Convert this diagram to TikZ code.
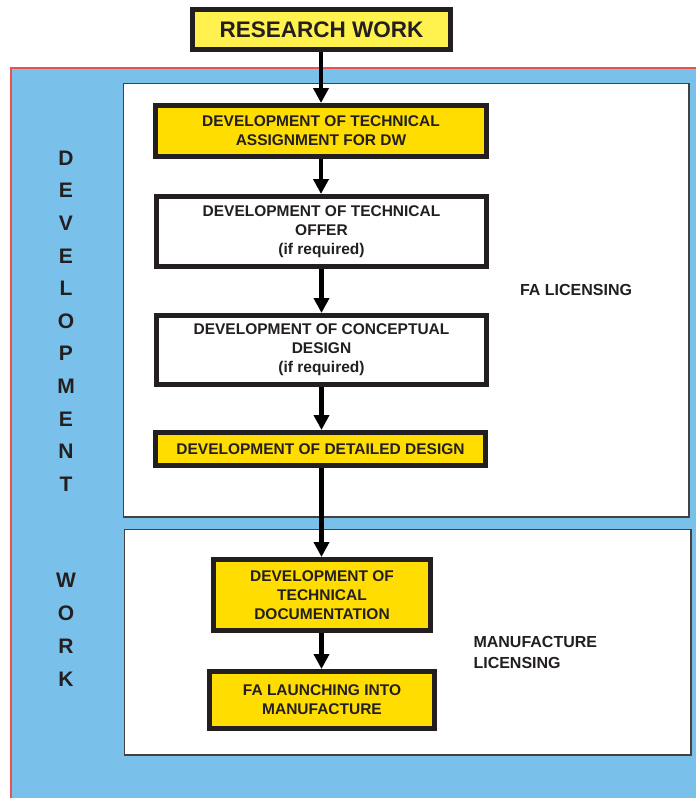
\documentclass[tikz,border=0pt]{standalone}
\usepackage{fontspec}
\setmainfont{Liberation Sans}
\usetikzlibrary{arrows.meta}
\definecolor{ink}{HTML}{231F20}
\definecolor{gold}{HTML}{FFDD00}
\definecolor{paleyellow}{HTML}{FFF14E}
\definecolor{skyblue}{HTML}{79C1EA}
\definecolor{redline}{HTML}{E8534F}
\tikzset{
  stepbox/.style={draw=ink, line width=5pt, align=center, text=ink, inner sep=0pt,
    font=\bfseries\fontsize{15.5}{19}\selectfont},
  goldbox/.style={stepbox, fill=gold},
  whitebox/.style={stepbox, fill=white},
  flow/.style={line width=4.2pt, draw=black, -{Triangle[width=15pt,length=15pt]}},
  panel/.style={draw=ink!85, line width=1.3pt, fill=white},
  sidetext/.style={text=ink, font=\bfseries\fontsize{16}{21}\selectfont},
  vertword/.style={text=ink, align=center, inner sep=0pt}
}
\begin{document}
\begin{tikzpicture}[x=1pt,y=-1pt]
\useasboundingbox (0,0) rectangle (696,798);
% background panels
\fill[skyblue] (11,68) rectangle (700,802);
\draw[redline, line width=2pt] (11,802) -- (11,68) -- (700,68);
\draw[panel] (123.5,83.5) rectangle (689,517);
\draw[panel] (124.5,529.5) rectangle (691,755);
% vertical words
\node[vertword, font=\bfseries\fontsize{21}{32.6}\selectfont] (dev) at (66,321)
  {D\\E\\V\\E\\L\\O\\P\\M\\E\\N\\T};
\node[vertword, font=\bfseries\fontsize{21}{33}\selectfont] (work) at (66,629.5)
  {W\\O\\R\\K};
% side labels
\node[sidetext] (fal) at (576,290) {FA LICENSING};
\node[sidetext, anchor=west, align=left] (mfl) at (470,652.5) {MANUFACTURE\\LICENSING};
% boxes
\node[stepbox, fill=paleyellow, minimum width=258pt, minimum height=40pt,
  font=\bfseries\fontsize{22.5}{26}\selectfont] (rw) at (321.5,29.5) {RESEARCH WORK};
\node[goldbox, minimum width=331pt, minimum height=51pt] (b1) at (321,131)
  {DEVELOPMENT OF TECHNICAL\\ASSIGNMENT FOR DW};
\node[whitebox, minimum width=330pt, minimum height=70pt] (b2) at (321.5,231.5)
  {DEVELOPMENT OF TECHNICAL\\OFFER\\(if required)};
\node[whitebox, minimum width=330pt, minimum height=69pt] (b3) at (321.5,350)
  {DEVELOPMENT OF CONCEPTUAL\\DESIGN\\(if required)};
\node[goldbox, minimum width=330pt, minimum height=33pt] (b4) at (320.5,449)
  {DEVELOPMENT OF DETAILED DESIGN};
\node[goldbox, minimum width=217pt, minimum height=71pt] (b5) at (322,595)
  {DEVELOPMENT OF\\TECHNICAL\\DOCUMENTATION};
\node[goldbox, minimum width=225pt, minimum height=57pt] (b6) at (322,700)
  {FA LAUNCHING INTO\\MANUFACTURE};
% arrows
\draw[flow] (rw.south -| b1.north) -- (b1.north);
\draw[flow] (b1.south) -- (b2.north -| b1.south);
\draw[flow] (b2.south) -- (b3.north);
\draw[flow] (b3.south) -- (b3.south |- b4.north);
\draw[flow] (b3.south |- b4.south) -- (b3.south |- b5.north);
\draw[flow] (b3.south |- b5.south) -- (b3.south |- b6.north);
\end{tikzpicture}
\end{document}
